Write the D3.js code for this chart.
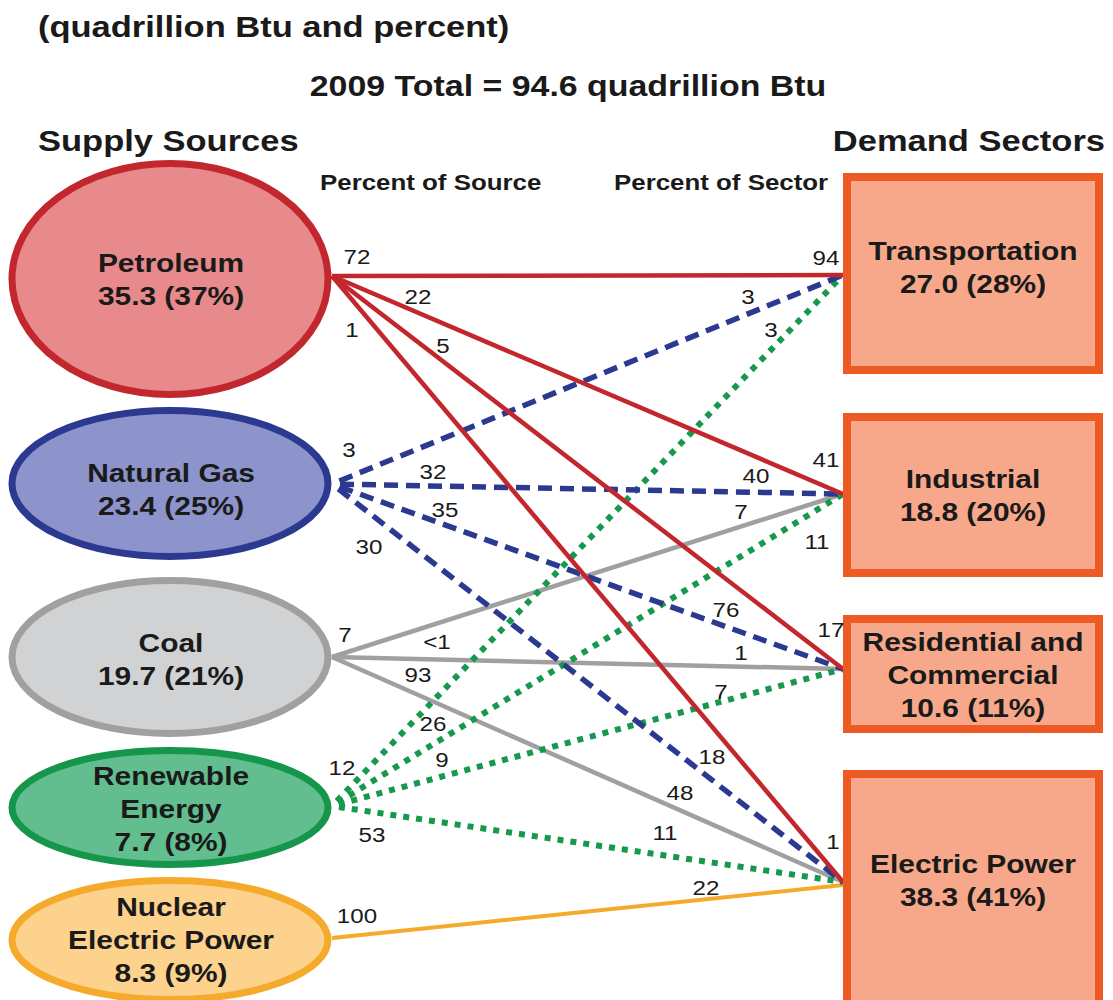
<!DOCTYPE html>
<html>
<head>
<meta charset="utf-8">
<script src="https://cdn.jsdelivr.net/npm/d3@7"></script>
<style>
  html, body { margin: 0; padding: 0; background: #ffffff; }
  svg { display: block; }
  text { font-family: "Liberation Sans", Arial, Helvetica, sans-serif; fill: #1a1a1a; }
</style>
</head>
<body>
<script>
// ---------------- DATA ----------------
const titleUnits = "(quadrillion Btu and percent)";
const titleTotal = "2009 Total = 94.6 quadrillion Btu";
const leftHeader = "Supply Sources";
const rightHeader = "Demand Sectors";
const leftSubHeader = "Percent of Source";
const rightSubHeader = "Percent of Sector";

const sources = ["Petroleum", "Natural Gas", "Coal", "Renewable Energy", "Nuclear Electric Power"];
const sourceNameLines = [["Petroleum"], ["Natural Gas"], ["Coal"], ["Renewable", "Energy"], ["Nuclear", "Electric Power"]];
const sourceValues = [35.3, 23.4, 19.7, 7.7, 8.3];
const sourceShares = [37, 25, 21, 8, 9];

const sectors = ["Transportation", "Industrial", "Residential and Commercial", "Electric Power"];
const sectorNameLines = [["Transportation"], ["Industrial"], ["Residential and", "Commercial"], ["Electric Power"]];
const sectorValues = [27.0, 18.8, 10.6, 38.3];
const sectorShares = [28, 20, 11, 41];

const flowSource = ["Petroleum", "Petroleum", "Petroleum", "Petroleum",
  "Natural Gas", "Natural Gas", "Natural Gas", "Natural Gas",
  "Coal", "Coal", "Coal",
  "Renewable Energy", "Renewable Energy", "Renewable Energy", "Renewable Energy",
  "Nuclear Electric Power"];
const flowSector = ["Transportation", "Industrial", "Residential and Commercial", "Electric Power",
  "Transportation", "Industrial", "Residential and Commercial", "Electric Power",
  "Industrial", "Residential and Commercial", "Electric Power",
  "Transportation", "Industrial", "Residential and Commercial", "Electric Power",
  "Electric Power"];
const percentOfSource = ["72", "22", "5", "1", "3", "32", "35", "30", "7", "<1", "93", "12", "26", "9", "53", "100"];
const percentOfSector = ["94", "41", "17", "1", "3", "40", "76", "18", "7", "1", "48", "3", "11", "7", "11", "22"];

// ---------------- LAYOUT / STYLE ----------------
const W = 1113, H = 1000;
const SX = 1.15; // horizontal text stretch of the original artwork
const FONT = '"Liberation Sans", Arial, Helvetica, sans-serif';

const srcStyle = {
  "Petroleum":              {fill: "#e8898c", stroke: "#c1272d", line: "#c1272d", lw: 4.5, dash: null, off: 0},
  "Natural Gas":            {fill: "#8d93cb", stroke: "#2b3990", line: "#2b3990", lw: 5.5, dash: "14,8", off: 14},
  "Coal":                   {fill: "#d1d2d3", stroke: "#a0a0a1", line: "#a0a0a1", lw: 4.5, dash: null, off: 0},
  "Renewable Energy":       {fill: "#62be8e", stroke: "#15964a", line: "#16994c", lw: 6, dash: "6,7", off: 6},
  "Nuclear Electric Power": {fill: "#fcd28d", stroke: "#f5aa2c", line: "#f5aa2c", lw: 4, dash: null, off: 0}
};
const sectorFill = "#f7a88a", sectorStroke = "#ee5a24";

// column anchors through a point scale
const xCol = d3.scalePoint().domain(["source", "sector"]).range([332, 843]);
// node geometry
const srcCenterY = d3.scaleOrdinal().domain(sources).range([279, 483.5, 657, 807.5, 940]);
const srcRy = d3.scaleOrdinal().domain(sources).range([115.5, 73, 76.5, 57, 59.5]);
const srcAnchorY = d3.scaleOrdinal().domain(sources).range([276, 484, 657, 806, 938]);
const ellCx = 170, ellRx = 158;

const secTop = d3.scaleOrdinal().domain(sectors).range([177, 417, 619, 774]);
const secBottom = d3.scaleOrdinal().domain(sectors).range([370, 573, 729, 1014]);
const secAnchorY = d3.scaleOrdinal().domain(sectors).range([275, 494, 669, 882]);
const secTextY = d3.scaleOrdinal().domain(sectors).range([267, 495, 675, 880]);
const srcTextY = d3.scaleOrdinal().domain(sources).range([279, 489, 659, 809, 940]);
const rectX = 847, rectW = 252;

// label placement relative to each flow line: [dx from anchor, dy from line]
const srcLabelOffset = [[25, -19], [86, -16], [111, -16], [20, 30],
  [17, -27], [101, -14], [113, -15], [37, 34],
  [13, -18], [105, -17.5], [86, -20],
  [10, -28], [101, -21], [110, -16.5], [40, 23],
  [25, -20]];
const secLabelOffset = [[-17, -17], [-17, -27], [-12, -30], [-10, -28],
  [-95, -17], [-87, -17], [-117, -17], [-131, -23],
  [-102, -14.5], [-102, -13.6], [-163, -18],
  [-72, -20], [-26, 32], [-122, -10], [-178, -22.5],
  [-137, -12]];

// ---------------- DRAW ----------------
const svg = d3.select("body").append("svg")
  .attr("width", W).attr("height", H)
  .attr("viewBox", `0 0 ${W} ${H}`);
svg.append("rect").attr("width", W).attr("height", H).attr("fill", "#fff");

function addText(parent, x, y, str, size, weight, anchor) {
  return parent.append("text")
    .attr("transform", `translate(${x},${y}) scale(${SX},1)`)
    .attr("text-anchor", anchor || "middle")
    .attr("dy", "0.35em")
    .attr("font-family", FONT)
    .attr("font-size", size)
    .attr("font-weight", weight || "normal")
    .text(str);
}

// headers
addText(svg, 38, 26, titleUnits, 30, "bold", "start");
addText(svg, 568, 86, titleTotal, 29.5, "bold", "middle");
addText(svg, 38, 140, leftHeader, 30, "bold", "start");
addText(svg, 1105, 140, rightHeader, 30, "bold", "end");
addText(svg, 320, 182, leftSubHeader, 22.5, "bold", "start");
addText(svg, 614, 182, rightSubHeader, 22.5, "bold", "start");

// flows
const flows = flowSource.map((s, i) => ({
  source: s, sector: flowSector[i],
  ps: percentOfSource[i], pt: percentOfSector[i],
  so: srcLabelOffset[i], to: secLabelOffset[i]
}));
const drawOrder = ["Nuclear Electric Power", "Coal", "Renewable Energy", "Natural Gas", "Petroleum"];
const lineGen = d3.line();
const flowG = svg.append("g");
drawOrder.forEach(src => {
  flows.filter(f => f.source === src).forEach(f => {
    const st = srcStyle[f.source];
    const x0 = xCol("source"), y0 = srcAnchorY(f.source);
    const x1 = xCol("sector"), y1 = secAnchorY(f.sector) + (f.source === "Nuclear Electric Power" ? 3 : 0);
    const p = flowG.append("path")
      .attr("d", lineGen([[x0, y0], [x1, y1]]))
      .attr("fill", "none")
      .attr("stroke", st.line)
      .attr("stroke-width", st.lw)
      .attr("stroke-linecap", "butt");
    if (st.dash) p.attr("stroke-dasharray", st.dash).attr("stroke-dashoffset", st.off);
    f.line = {x0, y0, x1, y1};
  });
});

// source nodes (ellipses)
const srcG = svg.append("g");
sources.forEach((s, i) => {
  const st = srcStyle[s];
  srcG.append("ellipse")
    .attr("cx", ellCx).attr("cy", srcCenterY(s))
    .attr("rx", ellRx).attr("ry", srcRy(s))
    .attr("fill", st.fill).attr("stroke", st.stroke).attr("stroke-width", 7);
  const lines = sourceNameLines[i].concat([`${d3.format(".1f")(sourceValues[i])} (${sourceShares[i]}%)`]);
  const lh = 33, cy = srcTextY(s);
  lines.forEach((ln, k) => {
    addText(srcG, ellCx + 1, cy + (k - (lines.length - 1) / 2) * lh, ln, 26, "bold", "middle");
  });
});

// sector nodes (rects)
const secG = svg.append("g");
sectors.forEach((s, i) => {
  secG.append("rect")
    .attr("x", rectX).attr("y", secTop(s))
    .attr("width", rectW).attr("height", secBottom(s) - secTop(s))
    .attr("fill", sectorFill).attr("stroke", sectorStroke).attr("stroke-width", 8);
  const lines = sectorNameLines[i].concat([`${d3.format(".1f")(sectorValues[i])} (${sectorShares[i]}%)`]);
  const lh = 33, cy = secTextY(s);
  lines.forEach((ln, k) => {
    addText(secG, rectX + rectW / 2, cy + (k - (lines.length - 1) / 2) * lh, ln, 26, "bold", "middle");
  });
});

// percent labels
const labG = svg.append("g");
flows.forEach(f => {
  const L = f.line;
  const yAt = x => L.y0 + (x - L.x0) / (L.x1 - L.x0) * (L.y1 - L.y0);
  const sxp = L.x0 + f.so[0];
  addText(labG, sxp, yAt(sxp) + f.so[1], f.ps, 21, "normal", "middle");
  const txp = L.x1 + f.to[0];
  addText(labG, txp, yAt(txp) + f.to[1], f.pt, 21, "normal", "middle");
});
</script>
</body>
</html>
